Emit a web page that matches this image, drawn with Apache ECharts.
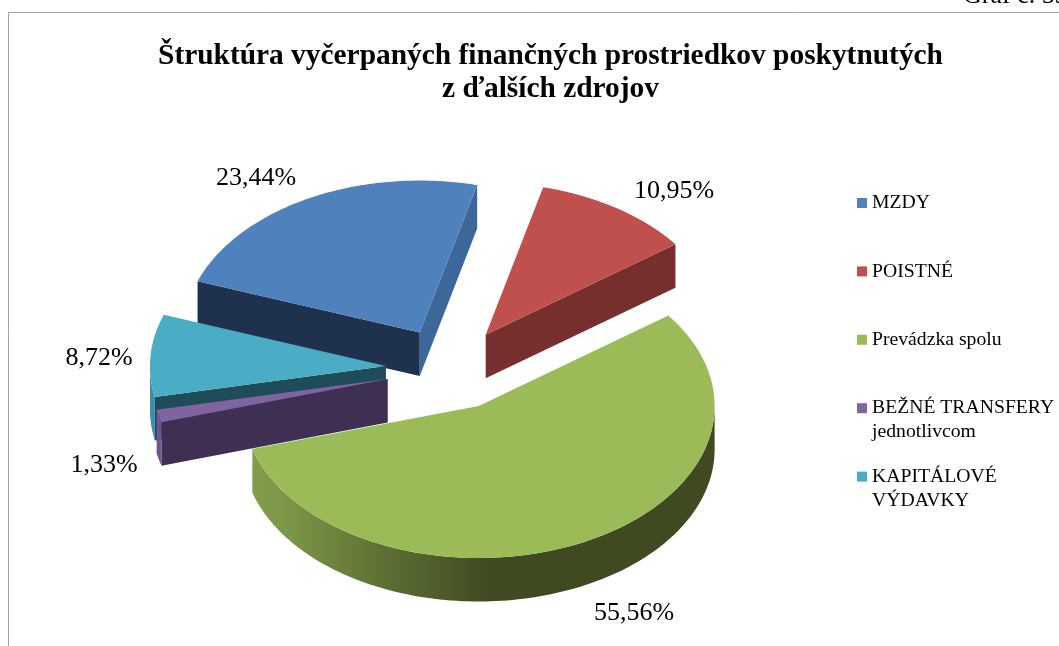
<!DOCTYPE html>
<html><head><meta charset="utf-8">
<style>html,body{margin:0;padding:0;background:#fff}#c{width:1059px;height:646px}</style>
<script src="https://cdn.jsdelivr.net/npm/echarts@6/dist/echarts.min.js"></script>
</head><body><div id="c"></div>
<script>
// ---- data ----
const categories = ['MZDY', 'POISTNÉ', 'Prevádzka spolu', 'BEŽNÉ TRANSFERY jednotlivcom', 'KAPITÁLOVÉ VÝDAVKY'];
const legendFirstLines = ['MZDY', 'POISTNÉ', 'Prevádzka spolu', 'BEŽNÉ TRANSFERY', 'KAPITÁLOVÉ'];
const legendSecondLines = ['', '', '', 'jednotlivcom', 'VÝDAVKY'];
const shares = [23.44, 10.95, 55.56, 1.33, 8.72];
const shareLabels = ['23,44%', '10,95%', '55,56%', '1,33%', '8,72%'];

// ---- styles ----
const topColors = ['#4F81BD', '#C0504D', '#9BBB59', '#8064A2', '#4BACC6'];
const faceColors = ['#3C6899', '#772F2D', '#3F4A21', '#3F2F52', '#1F4C59'];
const cutColors = ['#1E324D', '#772F2D', '#3F4A21', '#3F2F52', '#1F4C59'];
const sideColors = ['#3C6899', '#772F2D', '#3F4A21', '#6D5590', '#3B8FA6'];
const drawOrder = [0, 1, 2, 4, 3];

// ---- layout of the tilted pie ----
const P = { cx: 450, cy: 369, rx: 236, ry: 152, depth: 43.5, explode: 0.272, startDeg: -70.3 };
const labelCentres = [[256, 178], [674, 191], [634, 613], [104, 465], [99, 358]];
const legendRowY = 203, legendRowGap = 68.4, legendTextX = 872, legendFontSize = 19.7;
const FONT = '"Liberation Serif","Times New Roman",serif';

const rad = d => d * Math.PI / 180;
const total = shares.reduce((a, b) => a + b, 0);
const spans = shares.map(v => v / total * 360);
const starts = spans.map((_, i) => P.startDeg + spans.slice(0, i).reduce((a, b) => a + b, 0));
const onRim = (o, d, dy) => [o[0] + Math.sin(rad(d)) * P.rx, o[1] - Math.cos(rad(d)) * P.ry + (dy || 0)];

function renderSlice(i) {
  const a = starts[i], b = a + spans[i], mid = (a + b) / 2;
  const apex = [P.cx + Math.sin(rad(mid)) * P.rx * P.explode, P.cy - Math.cos(rad(mid)) * P.ry * P.explode];
  const down = p => [p[0], p[1] + P.depth];
  const children = [];
  const poly = (points, fill) => children.push({ type: 'polygon', shape: { points }, style: { fill, lineWidth: 0 } });
  // radial cut faces that look towards the viewer
  if (Math.sin(rad(a)) < 0) { const r = onRim(apex, a); poly([apex, r, down(r), down(apex)], cutColors[i]); }
  if (Math.sin(rad(b)) > 0) { const r = onRim(apex, b); poly([apex, r, down(r), down(apex)], faceColors[i]); }
  // outer rim
  const from = Math.max(a, 90), to = Math.min(b, 270);
  if (to > from) {
    const upper = [], lower = [];
    for (let k = 0; k <= 120; k++) {
      const d = from + (to - from) * k / 120;
      upper.push(onRim(apex, d)); lower.push(onRim(apex, d, P.depth));
    }
    const fill = i === 2
      ? new echarts.graphic.LinearGradient(252, 0, 490, 0, [
          { offset: 0, color: '#829D4B' }, { offset: 0.15, color: '#7C9647' },
          { offset: 0.55, color: '#5D7033' }, { offset: 1, color: '#3F4A21' }], true)
      : sideColors[i];
    poly(upper.concat(lower.reverse()), fill);
  }
  // top surface
  const top = [apex];
  for (let k = 0; k <= 120; k++) top.push(onRim(apex, a + (b - a) * k / 120));
  poly(top, topColors[i]);
  return { type: 'group', children };
}

const series = drawOrder.map(i => ({
  type: 'custom', name: categories[i], coordinateSystem: 'none',
  itemStyle: { color: topColors[i] }, animation: false, silent: true,
  data: [[shares[i]]],
  renderItem: () => renderSlice(i)
}));

const graphicTexts = shareLabels.map((t, i) => ({
  type: 'text', x: labelCentres[i][0], y: labelCentres[i][1], silent: true,
  style: { text: t, font: '26px ' + FONT, fill: '#000', textAlign: 'center', textVerticalAlign: 'middle' }
}));
legendSecondLines.forEach((t, i) => {
  if (t) graphicTexts.push({
    type: 'text', x: legendTextX, y: legendRowY + i * legendRowGap + 24, silent: true,
    style: { text: t, font: legendFontSize + 'px ' + FONT, fill: '#000', textAlign: 'left', textVerticalAlign: 'middle' }
  });
});
graphicTexts.push(
  { type: 'text', x: 963, y: -4, silent: true, style: { text: 'Graf č. 53', font: '26px ' + FONT, fill: '#000', textAlign: 'left', textVerticalAlign: 'middle' } },
  { type: 'polyline', silent: true, shape: { points: [[8.5, 646], [8.5, 12.5], [1059, 12.5]] }, style: { stroke: '#A3A3A3', lineWidth: 1, fill: null } }
);

const chart = echarts.init(document.getElementById('c'), null, { renderer: 'canvas' });
chart.setOption({
  animation: false,
  backgroundColor: '#fff',
  title: {
    text: 'Štruktúra vyčerpaných finančných prostriedkov poskytnutých\nz ďalších zdrojov',
    left: 545.5, top: 34.5, textAlign: 'center',
    textStyle: { fontFamily: FONT, fontWeight: 'bold', fontSize: 29.4, lineHeight: 33, color: '#000' }
  },
  legend: {
    orient: 'vertical', left: 857, top: legendRowY - 10, padding: 0, icon: 'rect',
    itemWidth: 10, itemHeight: 10, itemGap: legendRowGap - 20, selectedMode: false,
    data: categories,
    formatter: n => legendFirstLines[categories.indexOf(n)],
    textStyle: { fontFamily: FONT, fontSize: legendFontSize, color: '#000', lineHeight: 20 }
  },
  series,
  graphic: graphicTexts
});
</script></body></html>
